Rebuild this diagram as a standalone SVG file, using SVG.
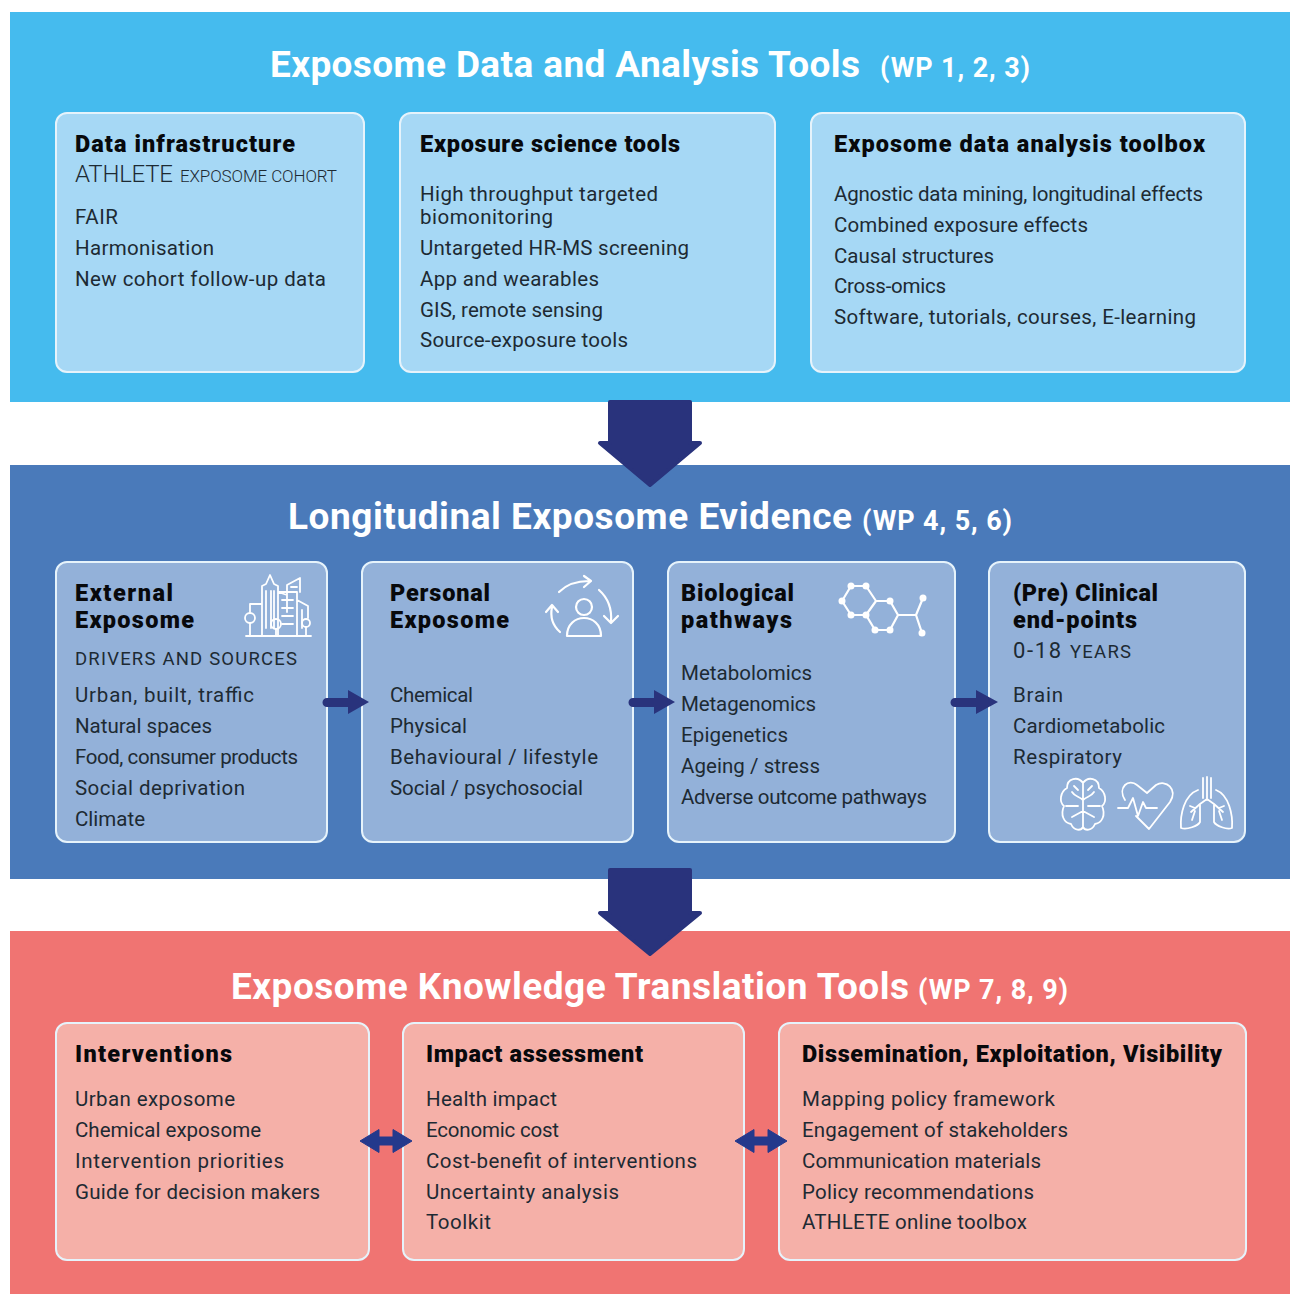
<svg xmlns="http://www.w3.org/2000/svg" width="1290" height="1294" viewBox="0 0 1290 1294">
<style>
text{font-family:Roboto,"Noto Sans","Liberation Sans",sans-serif;fill:#1d2a33;font-size:20.5px}
.title{font-size:37px;font-weight:700;fill:#fff}
.wp{font-size:27px;font-weight:700;fill:#fff}
.h{font-size:23.5px;font-weight:900;fill:#08090c}
.c{stroke:#e6f3fb;stroke-width:2}
.blue{fill:#a6d8f5}
.mid{fill:#93b1d9}
.red{fill:#f5b0a8}
.ic{fill:none;stroke:#fff;stroke-width:2.2;stroke-linecap:round;stroke-linejoin:round}
.ar{fill:#29337c}
.dbl{fill:#24398c;stroke:#24398c;stroke-width:1;stroke-linejoin:round}
</style>
<rect width="1290" height="1294" fill="#fff"/>
<g id="band-tools">
<rect x="10" y="12" width="1280" height="390" fill="#45bbee"/>
<text class="title" x="270" y="77" textLength="590">Exposome Data and Analysis Tools</text>
<text class="wp" x="880" y="77" textLength="150">(WP 1, 2, 3)</text>
</g>
<g id="band-evidence">
<rect x="10" y="465" width="1280" height="414" fill="#4a7aba"/>
<text class="title" x="288" y="529" textLength="564">Longitudinal Exposome Evidence</text>
<text class="wp" x="862" y="530" textLength="150">(WP 4, 5, 6)</text>
</g>
<g id="band-translation">
<rect x="10" y="931" width="1280" height="363" fill="#f07472"/>
<text class="title" x="231" y="999" textLength="678">Exposome Knowledge Translation Tools</text>
<text class="wp" x="918" y="999" textLength="150">(WP 7, 8, 9)</text>
</g>
<g id="card-data-infrastructure">
<rect class="c blue" x="56" y="113" width="308" height="259" rx="11"/>
<text class="h" x="75" y="152" textLength="220">Data infrastructure</text>
<text x="75" y="182" style="font-size:24px;font-weight:300" textLength="98">ATHLETE</text>
<text x="180" y="182" style="font-size:17px;font-weight:300" textLength="157">EXPOSOME COHORT</text>
<text x="75" y="224" textLength="43">FAIR</text>
<text x="75" y="255" textLength="139">Harmonisation</text>
<text x="75" y="286" textLength="251">New cohort follow-up data</text>
</g>
<g id="card-exposure-science">
<rect class="c blue" x="400" y="113" width="375" height="259" rx="11"/>
<text class="h" x="420" y="152" textLength="260">Exposure science tools</text>
<text x="420" y="201" textLength="238">High throughput targeted</text>
<text x="420" y="224" textLength="133">biomonitoring</text>
<text x="420" y="255" textLength="269">Untargeted HR-MS screening</text>
<text x="420" y="286" textLength="179">App and wearables</text>
<text x="420" y="317" textLength="183">GIS, remote sensing</text>
<text x="420" y="347" textLength="208">Source-exposure tools</text>
</g>
<g id="card-analysis-toolbox">
<rect class="c blue" x="811" y="113" width="434" height="259" rx="11"/>
<text class="h" x="834" y="152" textLength="371">Exposome data analysis toolbox</text>
<text x="834" y="201" textLength="369">Agnostic data mining, longitudinal effects</text>
<text x="834" y="232" textLength="254">Combined exposure effects</text>
<text x="834" y="263" textLength="160">Causal structures</text>
<text x="834" y="293" textLength="112">Cross-omics</text>
<text x="834" y="324" textLength="362">Software, tutorials, courses, E-learning</text>
</g>
<g id="card-external">
<rect class="c mid" x="56" y="562" width="271" height="280" rx="11"/>
<text class="h" x="75" y="601" textLength="98">External</text>
<text class="h" x="75" y="628" textLength="119">Exposome</text>
<text x="75" y="665" style="font-size:18.5px" textLength="222">DRIVERS AND SOURCES</text>
<text x="75" y="702" textLength="179">Urban, built, traffic</text>
<text x="75" y="733" textLength="137">Natural spaces</text>
<text x="75" y="764" textLength="223">Food, consumer products</text>
<text x="75" y="795" textLength="170">Social deprivation</text>
<text x="75" y="826" textLength="70">Climate</text>
<g class="ic" style="stroke-width:1.8">
<path d="M246 636H311M250 612V604H262M262 636V586L266 584L270 575L274 584L278 586V636M278 592L287 595M287 612V585L300 578V592M278 592H297V636M297 600L308 606V618M266 591V628M271 591V628M274 591V628M282 600H293M282 608H293M282 616H293M282 624H293M291 587H297M302 610V628"/>
<circle cx="250" cy="618" r="5"/><path d="M250 623V636"/>
<circle cx="276" cy="624" r="5"/><path d="M276 629V636"/>
<circle cx="306" cy="623" r="4"/><path d="M306 627V636"/>
</g>
</g>
<g id="card-personal">
<rect class="c mid" x="362" y="562" width="271" height="280" rx="11"/>
<text class="h" x="390" y="601" textLength="100">Personal</text>
<text class="h" x="390" y="628" textLength="119">Exposome</text>
<text x="390" y="702" textLength="83">Chemical</text>
<text x="390" y="733" textLength="77">Physical</text>
<text x="390" y="764" textLength="208">Behavioural / lifestyle</text>
<text x="390" y="795" textLength="193">Social / psychosocial</text>
<g class="ic">
<circle cx="584" cy="607" r="8"/>
<path d="M567 636C567 612 601 612 601 636ZM559 592C567 584 577 581 589 581M584 576L591 581L584 587M599 590C608 598 612 610 611 622M604 616L611 623L618 616M560 632C552 625 550 617 552 607M546 612L552 605L558 612"/>
</g>
</g>
<g id="card-biological">
<rect class="c mid" x="668" y="562" width="287" height="280" rx="11"/>
<text class="h" x="681" y="601" textLength="113">Biological</text>
<text class="h" x="681" y="628" textLength="111">pathways</text>
<text x="681" y="680" textLength="131">Metabolomics</text>
<text x="681" y="711" textLength="135">Metagenomics</text>
<text x="681" y="742" textLength="107">Epigenetics</text>
<text x="681" y="773" textLength="139">Ageing / stress</text>
<text x="681" y="804" textLength="246">Adverse outcome pathways</text>
<g id="molecule" class="ic">
<path d="M851 586H866L876 601L866 615H851L842 601ZM876 601H890L898 615L890 630H875L866 615M898 615H916L923 598M916 615L922 633"/>
<g fill="#fff" stroke="none"><circle cx="851" cy="586" r="3.5" fill="#fff"/><circle cx="866" cy="586" r="3.5" fill="#fff"/><circle cx="842" cy="601" r="3.5" fill="#fff"/><circle cx="851" cy="615" r="3.5" fill="#fff"/><circle cx="866" cy="615" r="3.5" fill="#fff"/><circle cx="890" cy="601" r="3.5" fill="#fff"/><circle cx="875" cy="630" r="3.5" fill="#fff"/><circle cx="890" cy="630" r="3.5" fill="#fff"/><circle cx="923" cy="598" r="3.5" fill="#fff"/><circle cx="922" cy="633" r="3.5" fill="#fff"/></g>
</g>
</g>
<g id="card-clinical">
<rect class="c mid" x="989" y="562" width="256" height="280" rx="11"/>
<text class="h" x="1013" y="601" textLength="145">(Pre) Clinical</text>
<text class="h" x="1013" y="628" textLength="124">end-points</text>
<text x="1013" y="658" style="font-size:22px" textLength="48">0-18</text>
<text x="1070" y="658" style="font-size:18.5px" textLength="61">YEARS</text>
<text x="1013" y="702" textLength="50">Brain</text>
<text x="1013" y="733" textLength="152">Cardiometabolic</text>
<text x="1013" y="764" textLength="109">Respiratory</text>
<g class="ic" style="stroke-width:1.8">
<path d="M1083 783C1078 776 1067 778 1067 788C1060 792 1059 802 1064 806C1060 815 1064 823 1071 824C1074 831 1081 831 1083 827ZM1083 783C1088 776 1099 778 1099 788C1106 792 1107 802 1102 806C1106 815 1102 823 1095 824C1092 831 1085 831 1083 827ZM1083 783V827M1072 792C1075 797 1079 796 1083 800M1094 792C1091 797 1087 796 1083 800M1066 806H1078M1100 806H1088M1072 817L1083 811L1094 817M1074 786L1078 790M1092 786L1088 790"/>
<path d="M1118 808H1128L1133 798L1138 816L1143 802L1146 808H1157M1125 800C1117 787 1129 778 1137 785L1147 793L1156 785C1166 779 1178 789 1170 802L1149 829L1136 816"/>
<path d="M1207 777V800M1203 778V798M1211 778V798M1198 790C1184 795 1180 815 1181 828C1187 830 1198 826 1200 822V804L1207 799L1214 804V822C1216 826 1227 830 1232 828C1233 815 1229 795 1216 790M1200 804L1191 812M1195 808L1190 806M1195 811L1192 820M1214 804L1223 812M1219 808L1224 806M1219 811L1222 820"/>
</g>
</g>
<g id="card-interventions">
<rect class="c red" x="56" y="1023" width="313" height="237" rx="11"/>
<text class="h" x="75" y="1062" textLength="157">Interventions</text>
<text x="75" y="1106" textLength="160">Urban exposome</text>
<text x="75" y="1137" textLength="186">Chemical exposome</text>
<text x="75" y="1168" textLength="209">Intervention priorities</text>
<text x="75" y="1199" textLength="245">Guide for decision makers</text>
</g>
<g id="card-impact">
<rect class="c red" x="403" y="1023" width="341" height="237" rx="11"/>
<text class="h" x="426" y="1062" textLength="217">Impact assessment</text>
<text x="426" y="1106" textLength="131">Health impact</text>
<text x="426" y="1137" textLength="133">Economic cost</text>
<text x="426" y="1168" textLength="271">Cost-benefit of interventions</text>
<text x="426" y="1199" textLength="193">Uncertainty analysis</text>
<text x="426" y="1229" textLength="65">Toolkit</text>
</g>
<g id="card-dissemination">
<rect class="c red" x="779" y="1023" width="467" height="237" rx="11"/>
<text class="h" x="802" y="1062" textLength="420">Dissemination, Exploitation, Visibility</text>
<text x="802" y="1106" textLength="253">Mapping policy framework</text>
<text x="802" y="1137" textLength="266">Engagement of stakeholders</text>
<text x="802" y="1168" textLength="239">Communication materials</text>
<text x="802" y="1199" textLength="232">Policy recommendations</text>
<text x="802" y="1229" textLength="225">ATHLETE online toolbox</text>
</g>
<g id="connectors">
<path class="ar" stroke="#29337c" stroke-width="4" stroke-linejoin="round" d="M610 402H690V443H700L650 485L600 443H610Z"/>
<path class="ar" stroke="#29337c" stroke-width="4" stroke-linejoin="round" d="M610 870H690V913H700L650 954L600 913H610Z"/>
<path class="ar" d="M327 698H348V690L369 702L348 714V707H327A4.5 4.5 0 0 1 327 698Z"/>
<path class="ar" d="M633 698H654V690L675 702L654 714V707H633A4.5 4.5 0 0 1 633 698Z"/>
<path class="ar" d="M955 698H976V690L998 702L976 714V707H955A4.5 4.5 0 0 1 955 698Z"/>
<path class="dbl" d="M360 1141L379 1129.500V1137H393V1129.500L412 1141L393 1152.500V1145H379V1152.500Z"/>
<path class="dbl" d="M735 1141L754 1129.500V1137H768V1129.500L787 1141L768 1152.500V1145H754V1152.500Z"/>
</g>
</svg>
